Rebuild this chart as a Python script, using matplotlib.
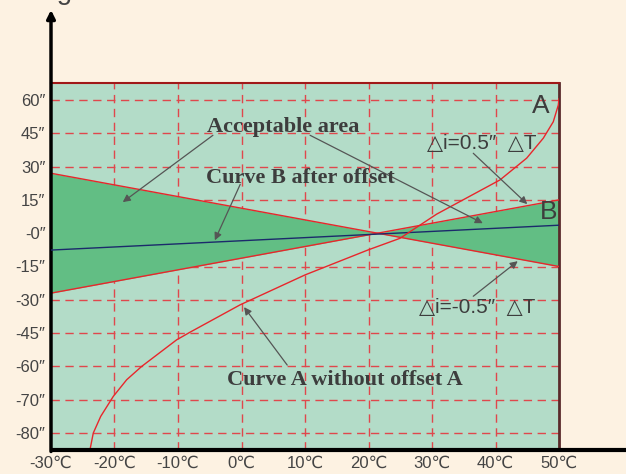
import matplotlib
matplotlib.use('Agg')

import matplotlib.pyplot as plt

# temperature axis (C) and the tick labels
temp_ticks = [-30, -20, -10, 0, 10, 20, 30, 40, 50]
temp_labels = ["-30℃", "-20℃", "-10℃", "0℃", "10℃", "20℃", "30℃", "40℃", "50℃"]

# the y axis is evenly spaced, but the last two labels read -70 / -80
y_ticks = [60, 45, 30, 15, 0, -15, -30, -45, -60, -75, -90]
y_labels = ["60″", "45″", "30″", "15″", "-0″", "-15″", "-30″", "-45″",
            "-60″", "-70″", "-80″"]

# limits of the acceptable area (two straight lines)
edge_t = [-30, 50]
edge_upper = [27, -15]
edge_lower = [-27, 15]

# curve B after offset
curve_b_t = [-30, 50]
curve_b = [-7.6, 3.6]

# curve A without offset
curve_a_t = [-23.86, -23.34, -22.17, -20.19, -18.08, -15.72, -10.2, -8.11,
             -0.24, 10.0, 19.97, 24.96, 30.74, 40.71, 44.91, 47.53, 49.1,
             49.89, 50.0]
curve_a = [-97.5, -90.0, -82.5, -73.5, -66.0, -60.0, -48.0, -44.6,
           -32.3, -18.8, -7.5, -2.3, 8.6, 24.0, 33.8, 42.8, 50.2,
           57.7, 60.5]

bg = "#fdf2e2"
light_green = "#b3dcc8"
dark_green = "#62be84"
red = "#e8262b"
grid_red = "#e0474c"
navy = "#1b2a6b"
arrow_grey = "#555555"
text_grey = "#3d3d3d"

sans = ["Liberation Sans", "DejaVu Sans"]
narrow = ["Liberation Sans Narrow", "Liberation Sans", "DejaVu Sans"]
serif = ["Liberation Serif", "DejaVu Serif"]

fig = plt.figure(figsize=(6.26, 4.74), dpi=100, facecolor=bg)
ax = fig.add_axes([51 / 626, 1 - 450 / 474, 508 / 626, 367 / 474])
ax.set_facecolor(light_green)

ax.set_xlim(-30, 50)
ax.set_ylim(-97.65, 67.65)

# grid
for t in temp_ticks[1:-1]:
    ax.axvline(t, color=grid_red, lw=1, ls=(0, (6, 4)), zorder=1)
for y in y_ticks:
    ax.axhline(y, color=grid_red, lw=1, ls=(0, (6, 4)), zorder=1)

# acceptable area
ax.fill_between(edge_t, edge_upper, edge_lower, color=dark_green, lw=0, zorder=2)
ax.plot(edge_t, edge_upper, color=red, lw=1, zorder=3)
ax.plot(edge_t, edge_lower, color=red, lw=1, zorder=3)

ax.plot(curve_b_t, curve_b, color=navy, lw=1, zorder=4)
ax.plot(curve_a_t, curve_a, color=red, lw=1, zorder=4)

# axes / frame
ax.set_xticks(temp_ticks)
ax.set_xticklabels(temp_labels, family=sans, fontsize=12, color="#444444")
ax.set_yticks(y_ticks)
ax.set_yticklabels(y_labels, family=sans, fontsize=12, color="#444444")
ax.tick_params(length=0, pad=4)
ax.spines['left'].set_visible(False)
ax.spines['bottom'].set_visible(False)
ax.spines['top'].set_color("#a01818")
ax.spines['top'].set_linewidth(1.5)
ax.spines['right'].set_color("#5a2a2a")
ax.spines['right'].set_linewidth(2)

ax.annotate("", xy=(0, 1.199), xytext=(0, -0.004), xycoords='axes fraction',
            arrowprops=dict(arrowstyle='-|>', lw=2.5, color='black',
                            mutation_scale=12, shrinkA=0, shrinkB=0),
            annotation_clip=False)
ax.plot([0, 1.14], [0, 0], transform=ax.transAxes, color='black', lw=3,
        clip_on=False, solid_capstyle='butt', zorder=6)

# axis title, cut off at the very top as in the original
fig.text(73 / 626, 1.002, "Tilting", ha='right', va='baseline', fontsize=20,
         family=sans, color="#444444")

# annotations
arrow_kw = dict(arrowstyle='-|>', lw=0.9, color=arrow_grey, mutation_scale=11,
                shrinkA=0, shrinkB=0)


def arrow(start, end):
    ax.annotate("", xy=end, xytext=start, arrowprops=arrow_kw, zorder=5)


ax.text(6.5, 47.7, "Acceptable area", ha='center', va='center', fontsize=16,
        family=serif, weight='bold', color=text_grey, zorder=5)
arrow((-4.5, 44.1), (-18.7, 14.0))
arrow((10.8, 44.1), (38.0, 4.5))

ax.text(9.2, 24.8, "Curve B after offset", ha='center', va='center', fontsize=16,
        family=serif, weight='bold', color=text_grey, zorder=5)
arrow((-0.2, 22.0), (-4.2, -3.2))

ax.text(16.3, -66.2, "Curve A without offset A", ha='center', va='center',
        fontsize=16, family=serif, weight='bold', color=text_grey, zorder=5)
arrow((7.2, -59.4), (0.4, -33.3))

ax.text(37.9, 40.5, "△i=0.5″  △T", ha='center', va='center', fontsize=15,
        family=narrow, color=text_grey, zorder=5)
arrow((36.5, 36.0), (45.0, 13.1))

ax.text(37.1, -33.3, "△i=-0.5″  △T", ha='center', va='center', fontsize=15,
        family=narrow, color=text_grey, zorder=5)
arrow((36.5, -28.4), (43.5, -12.6))

ax.text(47.2, 57.2, "A", ha='center', va='center', fontsize=19, family=sans,
        color=text_grey, zorder=5)
ax.text(48.4, 9.5, "B", ha='center', va='center', fontsize=19, family=sans,
        color=text_grey, zorder=5)

fig.savefig("out.png", dpi=100, facecolor=bg)
